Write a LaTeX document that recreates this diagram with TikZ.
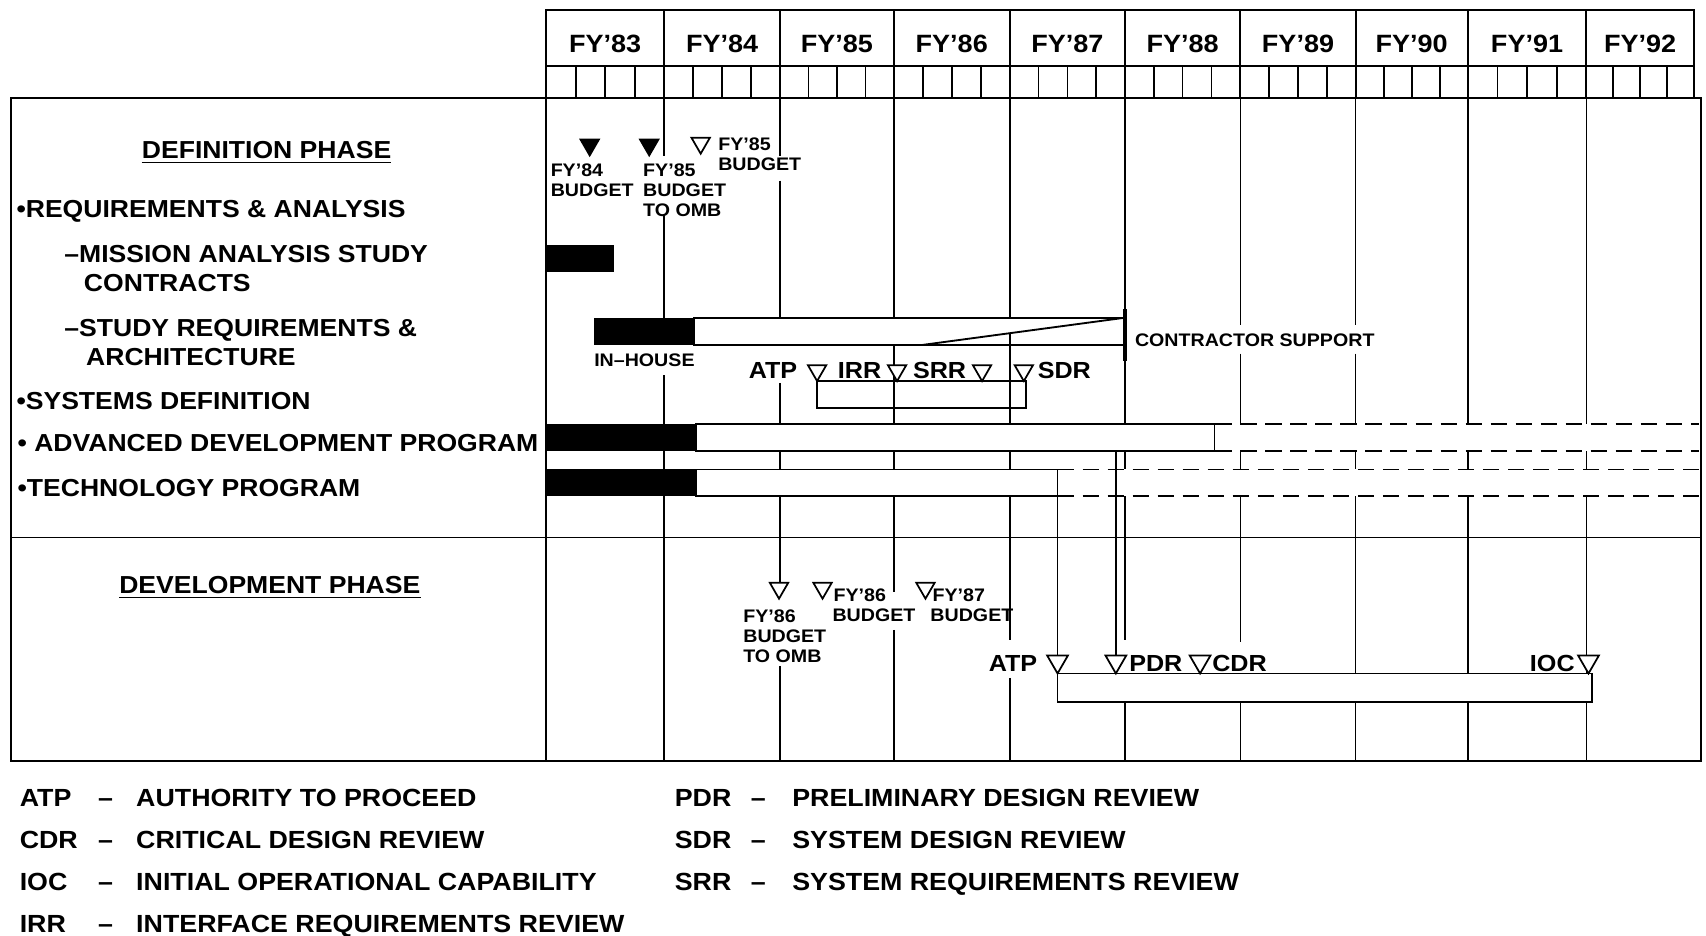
\documentclass[tikz,border=0pt]{standalone}
\usepackage{fontspec}
\setmainfont{Liberation Sans}[FakeStretch=1.08]
\usetikzlibrary{shapes.geometric}
\begin{document}
\begin{tikzpicture}[x=1pt,y=-1pt,
  frameln/.style={line width=1.8pt},
  gridln/.style={line width=1.5pt},
  barln/.style={line width=1.7pt},
  dashln/.style={line width=1.7pt,dash pattern=on 15pt off 8pt},
  mainlbl/.style={font=\fontsize{22.6}{26}\selectfont\bfseries,inner sep=0pt,anchor=base west},
  yearlbl/.style={font=\fontsize{23}{26}\selectfont\bfseries,inner sep=0pt,anchor=base},
  smalllbl/.style={font=\fontsize{16.7}{18}\selectfont\bfseries,inner sep=0pt,anchor=base west},
  midlbl/.style={font=\fontsize{21.4}{24}\selectfont\bfseries,inner sep=0pt,anchor=base west},
  leglbl/.style={font=\fontsize{22.8}{26}\selectfont\bfseries,inner sep=0pt,anchor=base west},
  otri/.style={regular polygon,regular polygon sides=3,shape border rotate=180,draw,
    line width=1.6pt,fill=white,minimum size=19.5pt,inner sep=0pt,outer sep=0pt},
  ftri/.style={otri,fill=black},
  btri/.style={otri,minimum size=22pt},
]
\useasboundingbox (0,0) rectangle (1568,860);

% ---------- grid lines (with gaps where labels sit) ----------
\draw[gridln] (502,90) -- (502,699);
\draw[gridln] (610.5,90) -- (610.5,143) (610.5,197) -- (610.5,317) (610.5,345) -- (610.5,699);
\draw[gridln] (717,90) -- (717,143) (717,166) -- (717,317) (717,352) -- (717,536) (717,612) -- (717,699);
\draw[gridln] (821.5,90) -- (821.5,544) (821.5,579) -- (821.5,699);
\draw[gridln] (928,90) -- (928,588) (928,623) -- (928,699);
\draw[gridln] (1034,90) -- (1034,588) (1034,619) -- (1034,699);
\draw[gridln] (1140,90) -- (1140,299) (1140,325) -- (1140,590) (1140,619) -- (1140,699);
\draw[gridln] (1246,90) -- (1246,299) (1246,325) -- (1246,699);
\draw[gridln] (1349,90) -- (1349,699);
\draw[gridln] (1458,90) -- (1458,699);

% ---------- bars ----------
% mission analysis study contracts
\fill (502,225) rectangle (564,250);
% study requirements & architecture
\fill (546,292) rectangle (638,317);
\fill[white] (638,292) -- (1034,292) -- (848,317) -- (638,317) -- cycle;
\draw[barln] (638,292) rectangle (1034,317);
\draw[barln] (848,317) -- (1034,292);
\draw[line width=3.5pt] (1034,284) -- (1034,332);
% systems definition
\draw[barln] (751,350) rectangle (943,375);
% advanced development program
\fill (502,389.5) rectangle (640,414.5);
\filldraw[barln,fill=white] (640,389.5) rectangle (1117,414.5);
\fill[white] (1117,389.5) rectangle (1562,414.5);
% technology program
\fill (502,431.5) rectangle (640,455.5);
\filldraw[barln,fill=white] (640,431.5) rectangle (972,455.5);
\fill[white] (972,431.5) rectangle (1562,455.5);
% development
\filldraw[barln,fill=white] (972,619) rectangle (1463,645);

% ---------- frame and header ----------
\draw[frameln] (10.5,90) -- (1563,90) -- (1563,699) -- (10.5,699) -- cycle;
\draw[frameln] (10.5,494) -- (1563,494);
\draw[frameln] (502,90) -- (502,9) -- (1557,9) -- (1557,90);
\draw[frameln] (502,61) -- (1557,61);
\foreach \xa in {610.5,717,821.5,928,1034,1140,1246,1349,1458}
  \draw[frameln] (\xa,9) -- (\xa,90);
\foreach \xa/\xb in {502/610.5,610.5/717,717/821.5,821.5/928,928/1034,1034/1140,1140/1246,1246/1349,1349/1458,1458/1557}
  \foreach \k in {1,2,3}
    \draw[gridln] ({\xa+\k*(\xb-\xa)/4},61) -- ({\xa+\k*(\xb-\xa)/4},90);
\foreach \xa/\xb/\yy [count=\i] in {502/610.5/83,610.5/717/84,717/821.5/85,821.5/928/86,928/1034/87,1034/1140/88,1140/1246/89,1246/1349/90,1349/1458/91,1458/1557/92}
  \node[yearlbl] (yr\i) at ({(\xa+\xb)/2},48.5) {FY’\yy};

% ---------- dashed continuations ----------
\draw[dashln] (1117,389.5) -- (1562,389.5);
\draw[dashln] (1117,414.5) -- (1562,414.5);
\draw[dashln] (972,431.5) -- (1562,431.5);
\draw[dashln] (972,455.5) -- (1562,455.5);

% ---------- milestone triangles ----------
\node[ftri] (m84) at (542,133.1) {};
\node[ftri] (m85omb) at (596.7,133.1) {};
\node[otri] (m85) at (644,131.5) {};
\node[otri] (tatpa) at (751,340.5) {};
\node[otri] (tirr) at (824.5,340.5) {};
\node[otri] (tsrr) at (902.6,340.5) {};
\node[otri] (tsdr) at (941,340.5) {};
\node[otri] (d86omb) at (716,540.5) {};
\node[otri] (d86) at (756,540.5) {};
\node[otri] (d87) at (850.6,540.5) {};
\node[btri] (tatpb) at (972,608) {};
\node[btri] (tpdr) at (1025.6,608) {};
\node[btri] (tcdr) at (1103,608) {};
\node[btri] (tioc) at (1460,608) {};

% ---------- connectors ----------
\coordinate (techend) at (972,431.5);
\coordinate (adpdrop) at (1025.6,414.5);
\draw[gridln] (techend) -- (tatpb.north);
\draw[line width=2.4pt] (adpdrop) -- (tpdr.north);

% ---------- left labels ----------
\node[mainlbl,anchor=base] (defph) at (245,146) {DEFINITION PHASE};
\draw[gridln] ([yshift=-3.5pt]defph.base west) -- ([yshift=-3.5pt]defph.base east);
\node[mainlbl] (req) at (15,200) {•REQUIREMENTS \& ANALYSIS};
\node[mainlbl] (masa) at (59,241.5) {–MISSION ANALYSIS STUDY};
\node[mainlbl] (masb) at (77,267.5) {CONTRACTS};
\node[mainlbl] (sraa) at (59,309.5) {–STUDY REQUIREMENTS \&};
\node[mainlbl] (srab) at (79,336) {ARCHITECTURE};
\node[mainlbl] (sysd) at (15,376) {•SYSTEMS DEFINITION};
\node[mainlbl] (adp) at (16,415) {• ADVANCED DEVELOPMENT PROGRAM};
\node[mainlbl] (tech) at (16,456) {•TECHNOLOGY PROGRAM};
\node[mainlbl,anchor=base] (devph) at (248,545.5) {DEVELOPMENT PHASE};
\draw[gridln] ([yshift=-3.5pt]devph.base west) -- ([yshift=-3.5pt]devph.base east);

% ---------- small chart labels ----------
\node[smalllbl] (ta1) at (506,162.4) {FY’84};
\node[smalllbl] (ta2) at (506,180.8) {BUDGET};
\node[smalllbl] (tb1) at (591,162.4) {FY’85};
\node[smalllbl] (tb2) at (591,180.8) {BUDGET};
\node[smalllbl] (tb3) at (591,199) {TO OMB};
\node[smalllbl] (tc1) at (660,138) {FY’85};
\node[smalllbl] (tc2) at (660,156.4) {BUDGET};
\node[smalllbl] (inh) at (546,337) {IN–HOUSE};
\node[smalllbl] (csup) at (1043,318.6) {CONTRACTOR SUPPORT};
\node[smalllbl] (da1) at (683,572.5) {FY’86};
\node[smalllbl] (da2) at (683,590.5) {BUDGET};
\node[smalllbl] (da3) at (683,608.5) {TO OMB};
\node[smalllbl] (db1) at (766,553) {FY’86};
\node[smalllbl] (db2) at (765,571.5) {BUDGET};
\node[smalllbl] (dc1) at (857,553) {FY’87};
\node[smalllbl] (dc2) at (855,571.5) {BUDGET};

% ---------- milestone names ----------
\node[midlbl] (latpa) at (688,348) {ATP};
\node[midlbl] (lirr) at (770,348) {IRR};
\node[midlbl] (lsrr) at (839,348) {SRR};
\node[midlbl] (lsdr) at (953.6,348) {SDR};
\node[midlbl] (latpb) at (908.6,617) {ATP};
\node[midlbl] (lpdr) at (1037.7,617) {PDR};
\node[midlbl] (lcdr) at (1114,617) {CDR};
\node[midlbl] (lioc) at (1406,617) {IOC};

% ---------- legend ----------
\node[leglbl] (ka) at (18,741) {ATP};
\node[leglbl,anchor=base] (kad) at (97,741) {–};
\node[leglbl] (kat) at (125,741) {AUTHORITY TO PROCEED};
\node[leglbl] (kc) at (18,780) {CDR};
\node[leglbl,anchor=base] (kcd) at (97,780) {–};
\node[leglbl] (kct) at (125,780) {CRITICAL DESIGN REVIEW};
\node[leglbl] (ki) at (18,818.5) {IOC};
\node[leglbl,anchor=base] (kid) at (97,818.5) {–};
\node[leglbl] (kit) at (125,818.5) {INITIAL OPERATIONAL CAPABILITY};
\node[leglbl] (kr) at (18,857) {IRR};
\node[leglbl,anchor=base] (krd) at (97,857) {–};
\node[leglbl] (krt) at (125,857) {INTERFACE REQUIREMENTS REVIEW};
\node[leglbl] (kp) at (620,741) {PDR};
\node[leglbl,anchor=base] (kpd) at (697,741) {–};
\node[leglbl] (kpt) at (728,741) {PRELIMINARY DESIGN REVIEW};
\node[leglbl] (ks) at (620,780) {SDR};
\node[leglbl,anchor=base] (ksd) at (697,780) {–};
\node[leglbl] (kst) at (728,780) {SYSTEM DESIGN REVIEW};
\node[leglbl] (kq) at (620,818.5) {SRR};
\node[leglbl,anchor=base] (kqd) at (697,818.5) {–};
\node[leglbl] (kqt) at (728,818.5) {SYSTEM REQUIREMENTS REVIEW};
\end{tikzpicture}
\end{document}
